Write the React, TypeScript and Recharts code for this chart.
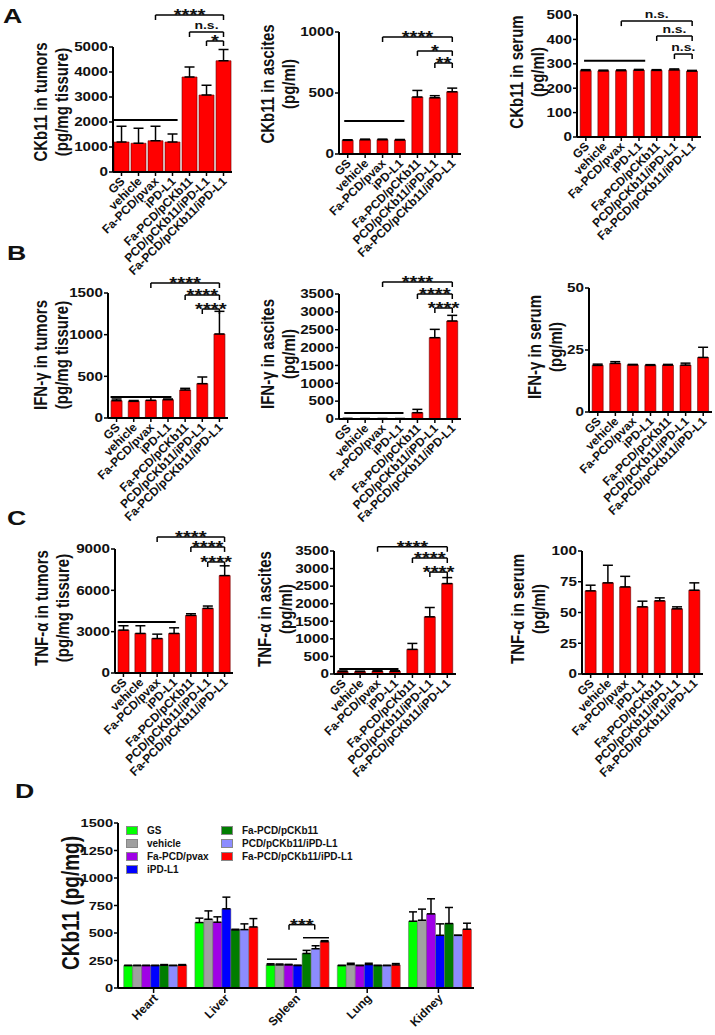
import React from 'react';
import { BarChart, Bar, XAxis, YAxis, ErrorBar, ReferenceLine, Legend } from 'recharts';

const FONT = '"Liberation Sans", Arial, Helvetica, sans-serif';
// the source figure is stretched sideways, so its upright text is too
const SX = 1.27;

// treatment groups shared by panels A-C
const groups = ['GS', 'vehicle', 'Fa-PCD/pvax', 'iPD-L1', 'Fa-PCD/pCKb11', 'PCD/pCKb11/iPD-L1', 'Fa-PCD/pCKb11/iPD-L1'];

// A: CKb11
const ckTumorMean = [1200, 1150, 1250, 1200, 3800, 3080, 4450];
const ckTumorSd = [630, 600, 580, 320, 400, 390, 450];
const ckAscitesMean = [112, 117, 117, 115, 467, 461, 510];
const ckAscitesSd = [5, 5, 5, 4, 54, 17, 30];
const ckSerumMean = [272, 271, 272, 274, 273, 275, 270];
const ckSerumSd = [4, 3, 3, 3, 3, 4, 3];

// B: IFN-gamma
const ifnTumorMean = [208, 200, 212, 220, 336, 412, 1008];
const ifnTumorSd = [20, 10, 40, 8, 20, 80, 272];
const ifnAscitesMean = [8, 6, 6, 6, 177, 2277, 2744];
const ifnAscitesSd = [10, 8, 8, 8, 93, 233, 158];
const ifnSerumMean = [18.8, 19.6, 19.0, 18.8, 18.9, 18.9, 22.0];
const ifnSerumSd = [0.5, 0.7, 0.2, 0.3, 0.3, 0.8, 4.1];

// C: TNF-alpha
const tnfTumorMean = [3110, 2870, 2500, 2870, 4180, 4690, 7070];
const tnfTumorSd = [320, 560, 320, 410, 120, 170, 710];
const tnfAscitesMean = [66, 66, 76, 76, 700, 1627, 2573];
const tnfAscitesSd = [20, 15, 15, 15, 170, 265, 170];
const tnfSerumMean = [67.6, 74.1, 70.8, 54.6, 59.5, 53.0, 68.1];
const tnfSerumSd = [4.6, 14.3, 8.6, 4.6, 2.4, 1.6, 6.0];

// y ticks
const ckTumorTicks = [0, 1000, 2000, 3000, 4000, 5000];
const ckAscitesTicks = [0, 500, 1000];
const ckSerumTicks = [0, 100, 200, 300, 400, 500];
const ifnTumorTicks = [0, 500, 1000, 1500];
const ifnAscitesTicks = [0, 500, 1000, 1500, 2000, 2500, 3000, 3500];
const ifnSerumTicks = [0, 25, 50];
const tnfTumorTicks = [0, 3000, 6000, 9000];
const tnfAscitesTicks = [0, 500, 1000, 1500, 2000, 2500, 3000, 3500];
const tnfSerumTicks = [0, 25, 50, 75, 100];

// significance brackets (group index from..to, height in data units)
const ckTumorBrackets = [
  { from: 2, to: 6, y: 6280, label: '****' },
  { from: 4, to: 6, y: 5600, label: 'n.s.' },
  { from: 5, to: 6, y: 5240, label: '*' },
];
const ckAscitesBrackets = [
  { from: 2, to: 6, y: 959, label: '****' },
  { from: 4, to: 6, y: 845, label: '*' },
  { from: 5, to: 6, y: 746, label: '**' },
];
const ckSerumBrackets = [
  { from: 2, to: 6, y: 475, label: 'n.s.' },
  { from: 4, to: 6, y: 414, label: 'n.s.' },
  { from: 5, to: 6, y: 340, label: 'n.s.' },
];
const ifnTumorBrackets = [
  { from: 2, to: 6, y: 1620, label: '****' },
  { from: 4, to: 6, y: 1476, label: '****' },
  { from: 5, to: 6, y: 1308, label: '****' },
];
const ifnAscitesBrackets = [
  { from: 2, to: 6, y: 3836, label: '****' },
  { from: 4, to: 6, y: 3500, label: '****' },
  { from: 5, to: 6, y: 3108, label: '****' },
];
const tnfTumorBrackets = [
  { from: 2, to: 6, y: 9870, label: '****' },
  { from: 4, to: 6, y: 9150, label: '****' },
  { from: 5, to: 6, y: 8060, label: '****' },
];
const tnfAscitesBrackets = [
  { from: 2, to: 6, y: 3620, label: '****' },
  { from: 4, to: 6, y: 3300, label: '****' },
  { from: 5, to: 6, y: 2900, label: '****' },
];

// plain comparison lines over the control groups (x in group units)
const ckTumorSpans = [{ x1: 0.05, x2: 3.8, y: 2080 }];
const ckAscitesSpans = [{ x1: 0.3, x2: 3.75, y: 270 }];
const ckSerumSpans = [{ x1: 0.4, x2: 3.85, y: 312 }];
const ifnTumorSpans = [{ x1: 0.15, x2: 3.7, y: 252 }];
const ifnAscitesSpans = [{ x1: 0.3, x2: 3.7, y: 168 }];
const tnfTumorSpans = [{ x1: 0.15, x2: 3.6, y: 3700 }];
const tnfAscitesSpans = [{ x1: 0.3, x2: 3.7, y: 140 }];

// D: CKb11 in organs
const organs = ['Heart', 'Liver', 'Spleen', 'Lung', 'Kidney'];
const organSeries = ['GS', 'vehicle', 'Fa-PCD/pvax', 'iPD-L1', 'Fa-PCD/pCKb11', 'PCD/pCKb11/iPD-L1', 'Fa-PCD/pCKb11/iPD-L1'];
const organColors = ['#00ff00', '#a0a0a0', '#a000e6', '#0000ff', '#007d00', '#8c8cff', '#ff0000'];
const organMeans = [
  [204, 595, 210, 204, 607],
  [204, 625, 210, 213, 616],
  [204, 598, 210, 204, 674],
  [204, 720, 204, 213, 479],
  [207, 528, 314, 204, 586],
  [204, 531, 357, 204, 479],
  [207, 555, 421, 210, 534],
];
const organSds = [
  [2, 40, 10, 2, 85],
  [2, 76, 8, 12, 101],
  [2, 49, 5, 2, 137],
  [2, 106, 3, 12, 104],
  [6, 6, 28, 2, 146],
  [2, 52, 27, 2, 0],
  [6, 76, 9, 12, 55],
];
const organTicks = [0, 250, 500, 750, 1000, 1250, 1500];
const organSpans = [
  { x1: 2.093, x2: 2.514, y: 262 },
  { x1: 2.598, x2: 2.963, y: 457 },
];
const organBrackets = [{ x1: 2.402, x2: 2.763, y: 576, label: '***' }];

const makeXTick = (fontSize: number, dx: number, dy: number) => (props: any) => {
  const { x, y, payload } = props;
  return (
    <g transform={`translate(${x + dx},${y + dy}) rotate(-45)`}>
      <text x={0} y={0} dy="0.35em" textAnchor="end" fontSize={fontSize} fontWeight="bold" fontFamily={FONT} fill="#111">
        {payload.value}
      </text>
    </g>
  );
};

const makeYTick = (fontSize: number) => (props: any) => {
  const { x, y, payload } = props;
  return (
    <g transform={`translate(${x},${y}) scale(${SX},1)`}>
      <text x={0} y={0} dy="0.36em" textAnchor="end" fontSize={fontSize} fontWeight="bold" fontFamily={FONT} fill="#111">
        {payload.value}
      </text>
    </g>
  );
};

const SmallXTick = makeXTick(12, 1, 1);
const OrganXTick = makeXTick(12, 2, 1);
const SmallYTick = makeYTick(12);
const OrganYTick = makeYTick(11.5);

// bracket label, drawn above the line centre and widened like the rest
const makeBracketLabel = (label: string) => (props: any) => {
  const vb = props.viewBox || {};
  const cx = (vb.x ?? 0) + (vb.width ?? 0) / 2;
  const stars = label.includes('*');
  const ty = (vb.y ?? 0) + (stars ? 6 : -3);
  return (
    <g transform={`translate(${cx},${ty}) scale(${SX},1)`}>
      <text x={0} y={0} textAnchor="middle" fontSize={stars ? 16 : 11} fontWeight="bold" fontFamily={FONT} fill="#111">
        {label}
      </text>
    </g>
  );
};

const Y_W = 55;
const TOP = 50;
const X_H = 130;

interface PanelProps {
  left: number;
  top: number;
  plotW: number;
  plotH: number;
  means: number[];
  sds: number[];
  ticks: number[];
  brackets?: { from: number; to: number; y: number; label: string }[];
  spans?: { x1: number; x2: number; y: number }[];
  gap?: string;
}

function Panel({ left, top, plotW, plotH, means, sds, ticks, brackets = [], spans = [], gap = '18%' }: PanelProps) {
  const data = groups.map((g, i) => ({ group: g, pos: i + 0.5, mean: means[i], err: [0, sds[i]] }));
  const yMax = ticks[ticks.length - 1];
  const drop = (yMax * 5) / plotH;
  return (
    <div style={{ position: 'absolute', left: left - Y_W, top: top - TOP }}>
      <BarChart
        width={Y_W + plotW + 20}
        height={TOP + plotH + X_H}
        data={data}
        margin={{ top: TOP, right: 20, bottom: 0, left: 0 }}
        barCategoryGap={gap}
      >
        <XAxis
          dataKey="group"
          interval={0}
          height={X_H}
          tick={<SmallXTick />}
          tickSize={4}
          axisLine={{ stroke: '#000', strokeWidth: 2 }}
          tickLine={{ stroke: '#000', strokeWidth: 1.5 }}
        />
        <XAxis xAxisId="n" dataKey="pos" type="number" domain={[0, 7]} allowDataOverflow hide />
        <YAxis
          width={Y_W}
          domain={[0, yMax]}
          ticks={ticks}
          interval={0}
          tickSize={4}
          tickMargin={1}
          tick={<SmallYTick />}
          axisLine={{ stroke: '#000', strokeWidth: 2 }}
          tickLine={{ stroke: '#000', strokeWidth: 1.5 }}
        />
        <Bar dataKey="mean" fill="#ff0000" stroke="#6a0000" strokeWidth={0.6} isAnimationActive={false}>
          <ErrorBar dataKey="err" width={5} stroke="#000" strokeWidth={1.5} direction="y" />
        </Bar>
        {spans.map((s, i) => (
          <ReferenceLine
            key={`s${i}`}
            xAxisId="n"
            segment={[{ x: s.x1, y: s.y }, { x: s.x2, y: s.y }]}
            stroke="#000"
            strokeWidth={2}
            ifOverflow="visible"
          />
        ))}
        {brackets.map((b, i) => (
          <ReferenceLine
            key={`b${i}`}
            xAxisId="n"
            segment={[{ x: b.from + 0.5, y: b.y }, { x: b.to + 0.5, y: b.y }]}
            stroke="#000"
            strokeWidth={1.5}
            ifOverflow="visible"
            label={makeBracketLabel(b.label)}
          />
        ))}
        {brackets.map((b, i) => (
          <ReferenceLine
            key={`bl${i}`}
            xAxisId="n"
            segment={[{ x: b.from + 0.5, y: b.y }, { x: b.from + 0.5, y: b.y - drop }]}
            stroke="#000"
            strokeWidth={1.5}
            ifOverflow="visible"
          />
        ))}
        {brackets.map((b, i) => (
          <ReferenceLine
            key={`br${i}`}
            xAxisId="n"
            segment={[{ x: b.to + 0.5, y: b.y }, { x: b.to + 0.5, y: b.y - drop }]}
            stroke="#000"
            strokeWidth={1.5}
            ifOverflow="visible"
          />
        ))}
      </BarChart>
    </div>
  );
}

function AxisTitle({ cx, cy, lines, size = 15 }: { cx: number; cy: number; lines: string[]; size?: number }) {
  return (
    <div
      style={{
        position: 'absolute',
        left: cx,
        top: cy,
        transform: `translate(-50%, -50%) scaleX(${SX}) rotate(-90deg)`,
        textAlign: 'center',
        whiteSpace: 'nowrap',
        fontFamily: FONT,
        fontWeight: 'bold',
        fontSize: size,
        lineHeight: '16px',
        color: '#111',
      }}
    >
      {lines.map((l) => (
        <div key={l}>{l}</div>
      ))}
    </div>
  );
}

function PanelLetter({ x, y, text }: { x: number; y: number; text: string }) {
  return (
    <div
      style={{
        position: 'absolute',
        left: x,
        top: y,
        fontFamily: FONT,
        fontWeight: 'bold',
        fontSize: 21,
        lineHeight: 1,
        color: '#111',
        transform: `scaleX(${SX})`,
        transformOrigin: 'left top',
      }}
    >
      {text}
    </div>
  );
}

const renderOrganLegend = () => (
  <div
    style={{
      display: 'grid',
      gridTemplateColumns: '95px 170px',
      gridTemplateRows: 'repeat(4, 13px)',
      gridAutoFlow: 'column',
      fontFamily: FONT,
      fontSize: 10,
      fontWeight: 'bold',
      color: '#111',
    }}
  >
    {organSeries.map((s, si) => (
      <div key={s} style={{ display: 'flex', alignItems: 'center', whiteSpace: 'nowrap' }}>
        <span
          style={{
            display: 'inline-block',
            width: 12,
            height: 9,
            background: organColors[si],
            border: '1px solid #888',
            boxSizing: 'border-box',
            marginRight: 9,
          }}
        />
        <span>{s}</span>
      </div>
    ))}
  </div>
);

function OrganChart() {
  const data = organs.map((o, gi) => {
    const row: Record<string, any> = { organ: o, pos: gi + 0.5 };
    organSeries.forEach((s, si) => {
      row[`v${si}`] = organMeans[si][gi];
      row[`e${si}`] = [0, organSds[si][gi]];
    });
    return row;
  });
  const plotW = 356;
  const plotH = 165;
  const yw = 60;
  const top = 10;
  const drop = (1500 * 5) / plotH;
  return (
    <div style={{ position: 'absolute', left: 118 - yw, top: 823 - top }}>
      <BarChart
        width={yw + plotW + 10}
        height={top + plotH + 50}
        data={data}
        margin={{ top, right: 10, bottom: 0, left: 0 }}
        barCategoryGap="8%"
        barGap={0}
      >
        <XAxis
          dataKey="organ"
          interval={0}
          height={50}
          tick={<OrganXTick />}
          tickSize={5}
          axisLine={{ stroke: '#000', strokeWidth: 2 }}
          tickLine={{ stroke: '#000', strokeWidth: 1.5 }}
        />
        <XAxis xAxisId="n" dataKey="pos" type="number" domain={[0, 5]} allowDataOverflow hide />
        <YAxis
          width={yw}
          domain={[0, 1500]}
          ticks={organTicks}
          interval={0}
          tickSize={4}
          tickMargin={1}
          tick={<OrganYTick />}
          axisLine={{ stroke: '#000', strokeWidth: 2 }}
          tickLine={{ stroke: '#000', strokeWidth: 1.5 }}
        />
        <Legend
          layout="horizontal"
          align="center"
          verticalAlign="middle"
          wrapperStyle={{ left: 68, top: 11, width: 280 }}
          content={renderOrganLegend}
        />
        {organSeries.map((s, si) => (
          <Bar
            key={s}
            dataKey={`v${si}`}
            name={s}
            fill={organColors[si]}
            stroke="#666"
            strokeWidth={0.5}
            isAnimationActive={false}
          >
            <ErrorBar dataKey={`e${si}`} width={4} stroke="#000" strokeWidth={1.5} direction="y" />
          </Bar>
        ))}
        {organSpans.map((s, i) => (
          <ReferenceLine
            key={`s${i}`}
            xAxisId="n"
            segment={[{ x: s.x1, y: s.y }, { x: s.x2, y: s.y }]}
            stroke="#000"
            strokeWidth={1.5}
            ifOverflow="visible"
          />
        ))}
        {organBrackets.map((b, i) => (
          <ReferenceLine
            key={`b${i}`}
            xAxisId="n"
            segment={[{ x: b.x1, y: b.y }, { x: b.x2, y: b.y }]}
            stroke="#000"
            strokeWidth={1.5}
            ifOverflow="visible"
            label={makeBracketLabel(b.label)}
          />
        ))}
        {organBrackets.map((b, i) => (
          <ReferenceLine
            key={`bl${i}`}
            xAxisId="n"
            segment={[{ x: b.x1, y: b.y }, { x: b.x1, y: b.y - drop }]}
            stroke="#000"
            strokeWidth={1.5}
            ifOverflow="visible"
          />
        ))}
        {organBrackets.map((b, i) => (
          <ReferenceLine
            key={`br${i}`}
            xAxisId="n"
            segment={[{ x: b.x2, y: b.y }, { x: b.x2, y: b.y - drop }]}
            stroke="#000"
            strokeWidth={1.5}
            ifOverflow="visible"
          />
        ))}
      </BarChart>
    </div>
  );
}

export default function App() {
  return (
    <div
      style={{
        position: 'absolute',
        left: 0,
        top: 0,
        width: 715,
        height: 1035,
        overflow: 'hidden',
        background: '#fff',
        fontFamily: FONT,
      }}
    >
      {/* row A */}
      <Panel left={113} top={47} plotW={119} plotH={125} means={ckTumorMean} sds={ckTumorSd} ticks={ckTumorTicks} brackets={ckTumorBrackets} spans={ckTumorSpans} gap="6%" />
      <Panel left={339} top={32} plotW={122} plotH={122} means={ckAscitesMean} sds={ckAscitesSd} ticks={ckAscitesTicks} brackets={ckAscitesBrackets} spans={ckAscitesSpans} />
      <Panel left={577} top={15} plotW={124} plotH={122} means={ckSerumMean} sds={ckSerumSd} ticks={ckSerumTicks} brackets={ckSerumBrackets} spans={ckSerumSpans} />

      {/* row B */}
      <Panel left={108} top={293} plotW={120} plotH={125} means={ifnTumorMean} sds={ifnTumorSd} ticks={ifnTumorTicks} brackets={ifnTumorBrackets} spans={ifnTumorSpans} />
      <Panel left={339} top={294} plotW={122} plotH={125} means={ifnAscitesMean} sds={ifnAscitesSd} ticks={ifnAscitesTicks} brackets={ifnAscitesBrackets} spans={ifnAscitesSpans} />
      <Panel left={589} top={288} plotW={123} plotH={124} means={ifnSerumMean} sds={ifnSerumSd} ticks={ifnSerumTicks} />

      {/* row C */}
      <Panel left={115} top={549} plotW={118} plotH={124} means={tnfTumorMean} sds={tnfTumorSd} ticks={tnfTumorTicks} brackets={tnfTumorBrackets} spans={tnfTumorSpans} />
      <Panel left={334} top={551} plotW={122} plotH={123} means={tnfAscitesMean} sds={tnfAscitesSd} ticks={tnfAscitesTicks} brackets={tnfAscitesBrackets} spans={tnfAscitesSpans} />
      <Panel left={582} top={551} plotW={121} plotH={123} means={tnfSerumMean} sds={tnfSerumSd} ticks={tnfSerumTicks} />

      <OrganChart />

      <AxisTitle cx={51} cy={102} lines={['CKb11 in tumors', '(pg/mg tissure)']} />
      <AxisTitle cx={278} cy={84} lines={['CKb11 in ascites', '(pg/ml)']} />
      <AxisTitle cx={527} cy={72} lines={['CKb11 in serum', '(pg/ml)']} />
      <AxisTitle cx={51} cy={355} lines={['IFN-γ in tumors', '(pg/mg tissure)']} />
      <AxisTitle cx={278} cy={354} lines={['IFN-γ in ascites', '(pg/ml)']} />
      <AxisTitle cx={545} cy={347} lines={['IFN-γ in serum', '(pg/ml)']} />
      <AxisTitle cx={52} cy={608} lines={['TNF-α in tumors', '(pg/mg tissure)']} />
      <AxisTitle cx={275} cy={609} lines={['TNF-α in ascites', '(pg/ml)']} />
      <AxisTitle cx={528} cy={609} lines={['TNF-α in serum', '(pg/ml)']} />
      <AxisTitle cx={71} cy={903} lines={['CKb11 (pg/mg)']} size={19} />

      <PanelLetter x={3} y={5} text="A" />
      <PanelLetter x={7} y={242} text="B" />
      <PanelLetter x={7} y={507} text="C" />
      <PanelLetter x={15} y={780} text="D" />
    </div>
  );
}
